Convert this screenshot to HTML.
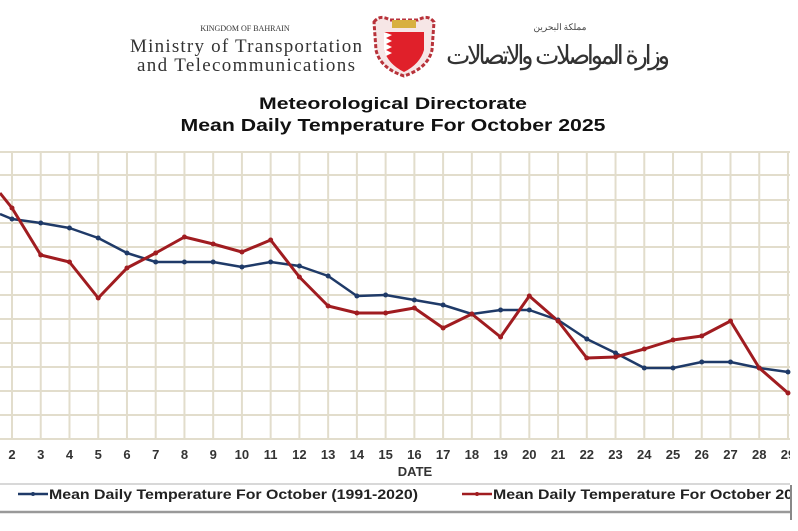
<!DOCTYPE html>
<html><head><meta charset="utf-8"><style>
body{margin:0;background:#fff;width:798px;height:526px;overflow:hidden}
</style></head><body>
<svg width="798" height="526" xmlns="http://www.w3.org/2000/svg">
<defs><clipPath id="c"><rect x="0" y="0" width="790" height="526"/></clipPath></defs>
<rect width="798" height="526" fill="#fff"/>
<text x="245" y="31" font-family="Liberation Serif" font-size="8" text-anchor="middle" fill="#333">KINGDOM OF BAHRAIN</text>
<text x="246" y="52" font-family="Liberation Serif" font-size="19" text-anchor="middle" fill="#333" textLength="232">Ministry of Transportation</text>
<text x="246" y="71" font-family="Liberation Serif" font-size="19" text-anchor="middle" fill="#333" textLength="218">and Telecommunications</text>
<g>
<path d="M374 22 Q380 14 390 20 L418 20 Q428 14 434 22 L432 50 Q428 68 404 76 Q380 68 376 50 Z" fill="#f6e6e6" stroke="#b8323a" stroke-width="3" stroke-dasharray="4 2"/>
<rect x="392" y="20" width="24" height="8" fill="#d8b040"/>
<path d="M384 32 L424 32 L424 50 Q420 64 404 72 Q388 64 384 50 Z" fill="#e0202a"/>
<path d="M384 32 L392 35 L386 38 L392 41 L386 44 L392 47 L386 50 L392 53 L386 56 L384 50 Z" fill="#fff"/>
</g>
<text x="560" y="30" font-family="Noto Sans CJK SC, sans-serif" font-size="9" text-anchor="middle" fill="#444">مملكة البحرين</text>
<text x="558" y="64" font-family="DejaVu Sans, sans-serif" font-size="26" text-anchor="middle" fill="#333" textLength="224" direction="rtl">وزارة المواصلات والاتصالات</text>
<text x="393" y="109" font-family="Liberation Sans" font-weight="bold" font-size="17" text-anchor="middle" fill="#111" textLength="268" lengthAdjust="spacingAndGlyphs">Meteorological Directorate</text>
<text x="393" y="131" font-family="Liberation Sans" font-weight="bold" font-size="17.5" text-anchor="middle" fill="#111" textLength="425" lengthAdjust="spacingAndGlyphs">Mean Daily Temperature For October 2025</text>
<g stroke="#e2ddcc" stroke-width="2">
<line x1="0" y1="152" x2="790" y2="152"/><line x1="0" y1="175" x2="790" y2="175"/><line x1="0" y1="200" x2="790" y2="200"/><line x1="0" y1="223" x2="790" y2="223"/><line x1="0" y1="247" x2="790" y2="247"/><line x1="0" y1="272" x2="790" y2="272"/><line x1="0" y1="295" x2="790" y2="295"/><line x1="0" y1="319" x2="790" y2="319"/><line x1="0" y1="343" x2="790" y2="343"/><line x1="0" y1="367" x2="790" y2="367"/><line x1="0" y1="391" x2="790" y2="391"/><line x1="0" y1="415" x2="790" y2="415"/><line x1="0" y1="439" x2="790" y2="439"/>
</g>
<g stroke="#e2ddcc" stroke-width="2" id="v"></g>
<g font-family="Liberation Sans" font-weight="bold" font-size="13" fill="#333" text-anchor="middle" id="t" clip-path="url(#c)"></g>
<text x="415" y="476" font-family="Liberation Sans" font-weight="bold" font-size="13" text-anchor="middle" fill="#333">DATE</text>
<line x1="0" y1="484" x2="790" y2="484" stroke="#ccc" stroke-width="1.5"/>
<line x1="0" y1="512" x2="790" y2="512" stroke="#999" stroke-width="2.5"/>
<line x1="791" y1="485" x2="791" y2="520" stroke="#888" stroke-width="2"/>
<line x1="18" y1="494" x2="48" y2="494" stroke="#1f3a68" stroke-width="2.5"/><circle cx="33" cy="494" r="2" fill="#1f3a68"/>
<text x="49" y="499" font-family="Liberation Sans" font-weight="bold" font-size="14" fill="#222" textLength="369" lengthAdjust="spacingAndGlyphs">Mean Daily Temperature For October (1991-2020)</text>
<line x1="462" y1="494" x2="492" y2="494" stroke="#a01c20" stroke-width="2.5"/><circle cx="477" cy="494" r="2" fill="#a01c20"/>
<g clip-path="url(#c)"><text x="493" y="499" font-family="Liberation Sans" font-weight="bold" font-size="14" fill="#222" textLength="300" lengthAdjust="spacingAndGlyphs">Mean Daily Temperature For October 20</text></g>
<polyline id="b" fill="none" stroke="#1f3a68" stroke-width="2.5" stroke-linejoin="round"/>
<polyline id="r" fill="none" stroke="#a01c20" stroke-width="3" stroke-linejoin="round"/>
<g id="m"></g>
</svg>
<script>
var ns="http://www.w3.org/2000/svg",v=document.getElementById('v'),t=document.getElementById('t'),m=document.getElementById('m');
function X(d){return 12+(d-2)*28.74}
for(var d=2;d<=29;d++){var l=document.createElementNS(ns,'line');l.setAttribute('x1',X(d));l.setAttribute('x2',X(d));l.setAttribute('y1',152);l.setAttribute('y2',439);v.appendChild(l);
var s=document.createElementNS(ns,'text');s.setAttribute('x',X(d));s.setAttribute('y',459);s.textContent=d;t.appendChild(s);}
var R=[193,208,255,262,298,268,253,237,244,252,240,277,306,313,313,308,328,314,337,296,321,358,357,349,340,336,321,368,393];
var B=[214,219,223,228,238,253,262,262,262,267,262,266,276,296,295,300,305,314,310,310,320,339,353,368,368,362,362,368,372];
function pts(a){var p=[];for(var i=0;i<a.length;i++){var x=i==0?0:X(i+1);p.push(x+','+a[i]);}return p.join(' ')}
document.getElementById('b').setAttribute('points',pts(B));
document.getElementById('r').setAttribute('points',pts(R));
[[B,'#1f3a68'],[R,'#a01c20']].forEach(function(q){for(var i=1;i<q[0].length;i++){var c=document.createElementNS(ns,'circle');c.setAttribute('cx',X(i+1));c.setAttribute('cy',q[0][i]);c.setAttribute('r',2.5);c.setAttribute('fill',q[1]);m.appendChild(c);}});
</script>
</body></html>
